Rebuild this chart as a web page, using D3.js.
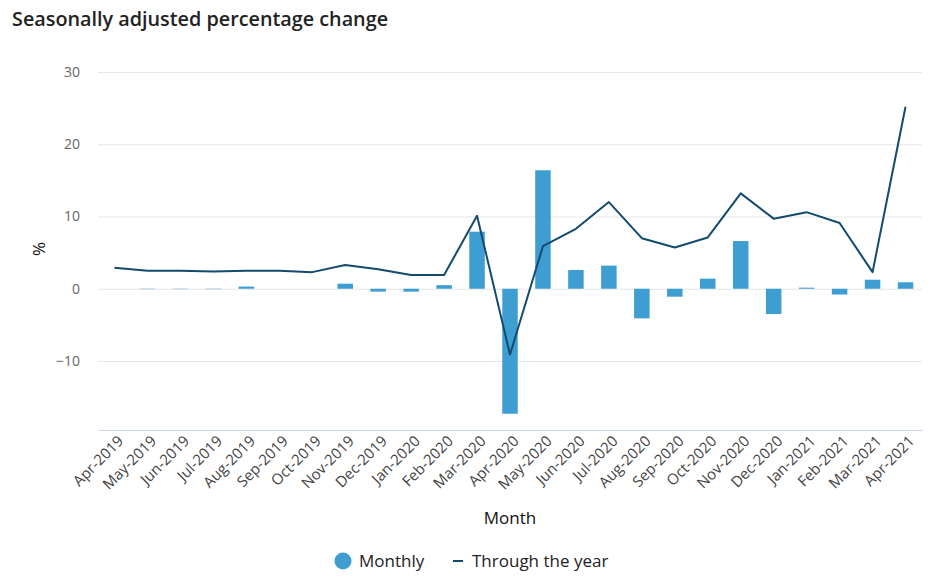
<!DOCTYPE html>
<html>
<head>
<meta charset="utf-8">
<script src="https://cdn.jsdelivr.net/npm/d3@7"></script>
<style>
  html, body { margin: 0; padding: 0; background: #fff; font-family: "Open Sans", "Noto Sans", sans-serif; overflow: hidden; }
  svg { display: block; }
  svg text { font-family: "Open Sans", "Noto Sans", sans-serif; }
</style>
</head>
<body>
<div id="chart"></div>
<script>
const months = ["Apr-2019", "May-2019", "Jun-2019", "Jul-2019", "Aug-2019", "Sep-2019", "Oct-2019", "Nov-2019", "Dec-2019",
  "Jan-2020", "Feb-2020", "Mar-2020", "Apr-2020", "May-2020", "Jun-2020", "Jul-2020", "Aug-2020", "Sep-2020", "Oct-2020",
  "Nov-2020", "Dec-2020", "Jan-2021", "Feb-2021", "Mar-2021", "Apr-2021"];
const monthly = [0.0, -0.05, -0.05, -0.05, 0.3, 0.0, 0.0, 0.7, -0.4, -0.4, 0.5, 7.9, -17.3, 16.4, 2.6, 3.2, -4.1, -1.1, 1.4,
  6.6, -3.5, 0.15, -0.8, 1.25, 0.9];
const throughYear = [2.9, 2.5, 2.5, 2.4, 2.5, 2.5, 2.3, 3.3, 2.7, 1.9, 1.9, 10.1, -9.1, 5.9, 8.3, 12.0, 7.0, 5.7, 7.1,
  13.2, 9.7, 10.6, 9.1, 2.3, 25.2];
const yTicks = [-10, 0, 10, 20, 30];

const width = 937, height = 588;
const margin = { top: 72, right: 15, bottom: 158, left: 98 };
const innerWidth = width - margin.left - margin.right;
const innerHeight = height - margin.top - margin.bottom;

const svg = d3.select("#chart").append("svg").attr("width", width).attr("height", height);

svg.append("text").attr("x", 12).attr("y", 26)
  .attr("font-size", 19.8).attr("font-weight", 600).attr("fill", "#222").text("Seasonally adjusted percentage change");

const chart = svg.append("g").attr("transform", `translate(${margin.left},${margin.top})`);

const x = d3.scaleBand().domain(months).range([0, innerWidth]).paddingInner(0.53).paddingOuter(0.265);
const y = d3.scaleLinear().domain([-19.55, 30]).range([innerHeight, 0]);

// grid
chart.append("g")
  .call(d3.axisLeft(y).tickValues(yTicks).tickSize(-innerWidth).tickFormat(d3.format("d")).tickPadding(18))
  .call(g => g.select(".domain").remove())
  .call(g => g.selectAll(".tick line").attr("stroke", "#e6e6e6"))
  .call(g => g.selectAll(".tick text").attr("font-size", 14).attr("fill", "#666"));

// bars
chart.selectAll(".bar").data(months).enter().append("rect")
  .attr("class", "bar")
  .attr("x", d => x(d))
  .attr("width", x.bandwidth())
  .attr("y", (d, i) => y(Math.max(0, monthly[i])))
  .attr("height", (d, i) => Math.abs(y(monthly[i]) - y(0)))
  .attr("fill", "#3e9ed1");

// line
const line = d3.line().x((d, i) => x(months[i]) + x.bandwidth() / 2).y(d => y(d));
chart.append("path").datum(throughYear)
  .attr("d", line).attr("fill", "none").attr("stroke", "#134b6e").attr("stroke-width", 2)
  .attr("stroke-linejoin", "round");

// x axis
const xAxis = chart.append("g").attr("transform", `translate(0,${innerHeight})`)
  .call(d3.axisBottom(x).tickSize(0).tickPadding(8));
xAxis.select(".domain").attr("stroke", "#ccd6eb");
xAxis.selectAll(".tick text")
  .attr("font-size", 15).attr("fill", "#444")
  .attr("text-anchor", "end")
  .attr("dx", "-0.1em").attr("dy", "0.5em")
  .attr("transform", "rotate(-45)");

// axis titles
svg.append("text").attr("x", 510).attr("y", 524)
  .attr("text-anchor", "middle").attr("font-size", 17).attr("fill", "#111").text("Month");
svg.append("text").attr("transform", `translate(45,${margin.top + y(5.5)}) rotate(-90)`)
  .attr("text-anchor", "middle").attr("font-size", 17).attr("fill", "#111").text("%");

// legend
const legend = svg.append("g").attr("transform", "translate(343,561)");
legend.append("circle").attr("r", 8.5).attr("fill", "#3e9ed1");
legend.append("text").attr("x", 16).attr("y", 6).attr("font-size", 17).attr("fill", "#222").text("Monthly");
legend.append("line").attr("x1", 110).attr("x2", 120).attr("stroke", "#134b6e").attr("stroke-width", 2);
legend.append("text").attr("x", 129).attr("y", 6).attr("font-size", 17).attr("fill", "#222").text("Through the year");
</script>
</body>
</html>
